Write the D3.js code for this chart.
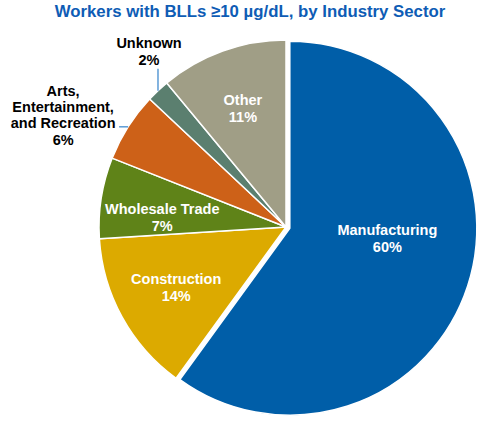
<!DOCTYPE html>
<html>
<head>
<meta charset="utf-8">
<script src="https://cdn.jsdelivr.net/npm/d3@7"></script>
<style>
  body { margin: 0; background: #fff; }
  text { font-family: "Liberation Sans", Arial, sans-serif; font-weight: bold; }
</style>
</head>
<body>
<svg id="chart" width="500" height="425"></svg>
<script>
// Industry sectors, in drawing order (clockwise from 12 o'clock)
const sectors = ["Manufacturing", "Construction", "Wholesale Trade", "Arts, Entertainment, and Recreation", "Unknown", "Other"];
const shares = [60, 14, 7, 6, 2, 11];
const colors = ["#005ea8", "#dcaa00", "#5f8318", "#cd6118", "#5b7f6f", "#a09e86"];
const labelLines = [
  ["Manufacturing"],
  ["Construction"],
  ["Wholesale Trade"],
  ["Arts,", "Entertainment,", "and Recreation"],
  ["Unknown"],
  ["Other"]
];

const svg = d3.select("#chart");
const cx = 286, cy = 227, R = 187;

svg.append("text")
  .attr("x", 250)
  .attr("y", 17)
  .attr("text-anchor", "middle")
  .attr("fill", "#0e5cb5")
  .attr("font-size", "16.8px")
  .text("Workers with BLLs \u226510 \u00b5g/dL, by Industry Sector");

const data = sectors.map((s, i) => ({ name: s, value: shares[i], color: colors[i], lines: labelLines[i] }));

const pie = d3.pie().sort(null).value(d => d.value);
const arcs = pie(data);
const arc = d3.arc().innerRadius(0).outerRadius(R);
const g = svg.append("g").attr("transform", `translate(${cx},${cy})`);

// Manufacturing is pulled out a little
const explode = { "Manufacturing": 4 };
function offset(d, r) {
  const a = (d.startAngle + d.endAngle) / 2;
  return [Math.sin(a) * r, -Math.cos(a) * r];
}

g.selectAll("path.slice")
  .data(arcs)
  .enter()
  .append("path")
  .attr("class", "slice")
  .attr("d", arc)
  .attr("transform", d => `translate(${offset(d, explode[d.data.name] || 0)})`)
  .attr("fill", d => d.data.color)
  .attr("stroke", "#ffffff")
  .attr("stroke-width", 1.5)
  .attr("stroke-linejoin", "round");

// inside labels: radius factor and vertical nudge
const inside = {
  "Manufacturing": { k: 0.57, dy: -21 },
  "Construction": { k: 0.67, dy: 0 },
  "Wholesale Trade": { k: 0.67, dy: 10 },
  "Other": { k: 0.68, dy: 1 }
};

arcs.filter(d => inside[d.data.name]).forEach(d => {
  const p = inside[d.data.name];
  const [x, y] = offset(d, R * p.k);
  const t = g.append("text")
    .attr("text-anchor", "middle")
    .attr("fill", "#ffffff")
    .attr("font-size", "14.5px");
  const lines = d.data.lines.concat([d.data.value + "%"]);
  lines.forEach((ln, i) => {
    t.append("tspan")
      .attr("x", x)
      .attr("y", y + p.dy + (i - (lines.length - 1) / 2) * 17 + 5)
      .text(ln);
  });
});

// outside labels with leader lines
const lineColor = "#5b9bd5";
arcs.filter(d => !inside[d.data.name]).forEach(d => {
  const [ex, ey] = offset(d, R);
  const lines = d.data.lines.concat([d.data.value + "%"]);
  const t = g.append("text")
    .attr("text-anchor", "middle")
    .attr("fill", "#000000")
    .attr("font-size", "14.5px");
  if (d.data.name === "Unknown") {
    g.append("line")
      .attr("x1", ex).attr("y1", ey)
      .attr("x2", ex).attr("y2", ey - 22)
      .attr("stroke", lineColor).attr("stroke-width", 1.5);
    lines.forEach((ln, i) => {
      t.append("tspan")
        .attr("x", ex - 9)
        .attr("y", ey - 43 + i * 17)
        .text(ln);
    });
  } else {
    g.append("line")
      .attr("x1", ex).attr("y1", ey)
      .attr("x2", ex - 9).attr("y2", ey)
      .attr("stroke", lineColor).attr("stroke-width", 1.5);
    lines.forEach((ln, i) => {
      t.append("tspan")
        .attr("x", ex - 65)
        .attr("y", ey - 31 + i * 16.3)
        .text(ln);
    });
  }
});
</script>
</body>
</html>
